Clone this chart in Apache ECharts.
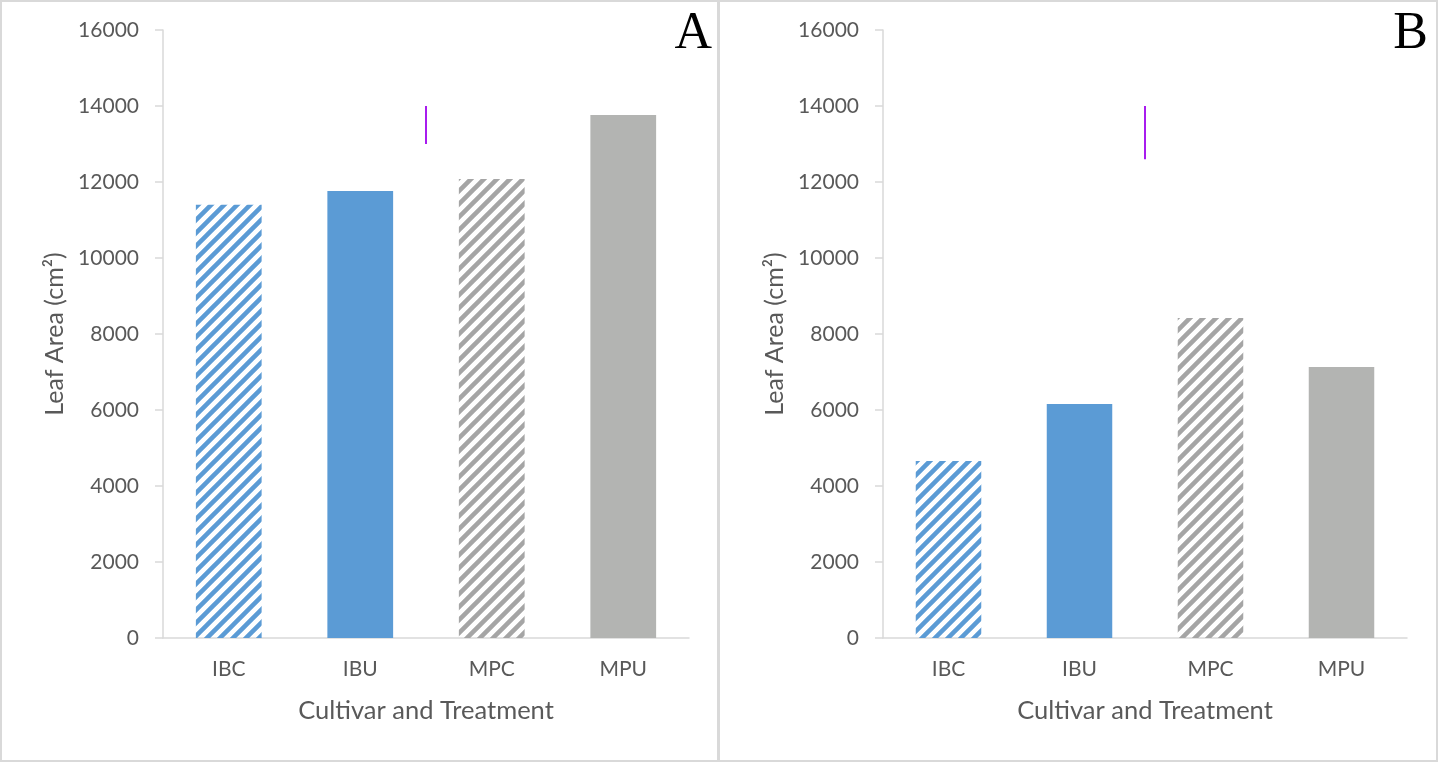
<!DOCTYPE html>
<html>
<head>
<meta charset="utf-8">
<title>Leaf Area</title>
<script src="https://cdn.jsdelivr.net/npm/echarts@6/dist/echarts.min.js"></script>
<style>
  html, body { margin: 0; padding: 0; background: #fff; }
  #chart { width: 1439px; height: 763px; }
</style>
</head>
<body>
<div id="chart"></div>
<script>
// data
const categories = ['IBC', 'IBU', 'MPC', 'MPU'];
const leafAreaA = [11400, 11760, 12080, 13760];
const leafAreaB = [4660, 6160, 8420, 7130];
const hatched = [true, false, true, false];
// stray purple mark between IBU and MPC: [x position on 0..4 scale, from, to]
const markA = [2, 13000, 14000];
const markB = [2, 12600, 14000];
const yTicks = { min: 0, max: 16000, interval: 2000 };

const blue = '#5B9BD5';
const gray = '#B3B4B2';
const grayStripe = '#A5A5A5';
const axisColor = '#D9D9D9';
const textColor = '#595959';
const font = 'Lato, "Open Sans", sans-serif';

function stripes(color) {
    const size = 13;
    const c = document.createElement('canvas');
    c.width = size;
    c.height = size;
    const ctx = c.getContext('2d');
    ctx.strokeStyle = color;
    ctx.lineWidth = 4.5;
    ctx.beginPath();
    [-size, 0, size].forEach(function (o) {
        ctx.moveTo(o - 2, size + 2);
        ctx.lineTo(o + size + 2, -2);
    });
    ctx.stroke();
    return { image: c, repeat: 'repeat' };
}
const blueHatch = stripes(blue);
const grayHatch = stripes(grayStripe);

function barData(values) {
    return values.map(function (v, i) {
        const isBlue = i < 2;
        let color;
        if (hatched[i]) {
            color = isBlue ? blueHatch : grayHatch;
        } else {
            color = isBlue ? blue : gray;
        }
        return { value: v, itemStyle: { color: color } };
    });
}

function xAxis(idx) {
    return {
        type: 'category',
        gridIndex: idx,
        data: categories,
        axisLine: { lineStyle: { color: axisColor, width: 1.5 } },
        axisTick: { show: false },
        axisLabel: { color: textColor, fontSize: 21, fontFamily: font, margin: 21 },
        name: 'Cultivar and Treatment',
        nameLocation: 'middle',
        nameGap: 60,
        nameTextStyle: { color: textColor, fontSize: 25.5, fontFamily: font }
    };
}

function hiddenX(idx) {
    return { type: 'value', gridIndex: idx, min: 0, max: 4, show: false };
}

function yAxis(idx) {
    return {
        type: 'value',
        gridIndex: idx,
        min: yTicks.min,
        max: yTicks.max,
        interval: yTicks.interval,
        axisLine: { show: true, lineStyle: { color: axisColor, width: 1.5 } },
        axisTick: { show: true, length: 8, lineStyle: { color: axisColor, width: 1.5 } },
        splitLine: { show: false },
        axisLabel: {
            color: textColor, fontSize: 21, fontFamily: font, margin: 24,
            formatter: function (v) { return String(v); }
        },
        name: 'Leaf Area (cm²)',
        nameLocation: 'middle',
        nameGap: 96,
        nameTextStyle: { color: textColor, fontSize: 25, fontFamily: font }
    };
}

function markSeries(idx, m) {
    return {
        type: 'line',
        xAxisIndex: idx + 2,
        yAxisIndex: idx,
        data: [[m[0], m[1]], [m[0], m[2]]],
        symbol: 'none',
        lineStyle: { color: '#A81CEE', width: 2 },
        silent: true
    };
}

const chart = echarts.init(document.getElementById('chart'));
chart.setOption({
    animation: false,
    backgroundColor: '#fff',
    grid: [
        { left: 163, top: 30, width: 526, height: 608 },
        { left: 883, top: 30, width: 524, height: 608 }
    ],
    xAxis: [xAxis(0), xAxis(1), hiddenX(0), hiddenX(1)],
    yAxis: [yAxis(0), yAxis(1)],
    graphic: [
        { type: 'rect', shape: { x: 1, y: 1, width: 717, height: 760 },
          style: { fill: 'none', stroke: axisColor, lineWidth: 2 }, z: -1 },
        { type: 'rect', shape: { x: 719, y: 1, width: 718, height: 760 },
          style: { fill: 'none', stroke: axisColor, lineWidth: 2 }, z: -1 },
        { type: 'text', right: 1439 - 712, top: 8,
          style: { text: 'A', font: '52px "Liberation Serif", "Times New Roman", serif', fill: '#000' } },
        { type: 'text', right: 1439 - 1428, top: 8,
          style: { text: 'B', font: '52px "Liberation Serif", "Times New Roman", serif', fill: '#000' } }
    ],
    series: [
        {
            type: 'bar', xAxisIndex: 0, yAxisIndex: 0,
            barWidth: '50%',
            data: barData(leafAreaA)
        },
        {
            type: 'bar', xAxisIndex: 1, yAxisIndex: 1,
            barWidth: '50%',
            data: barData(leafAreaB)
        },
        markSeries(0, markA),
        markSeries(1, markB)
    ]
});
</script>
</body>
</html>
